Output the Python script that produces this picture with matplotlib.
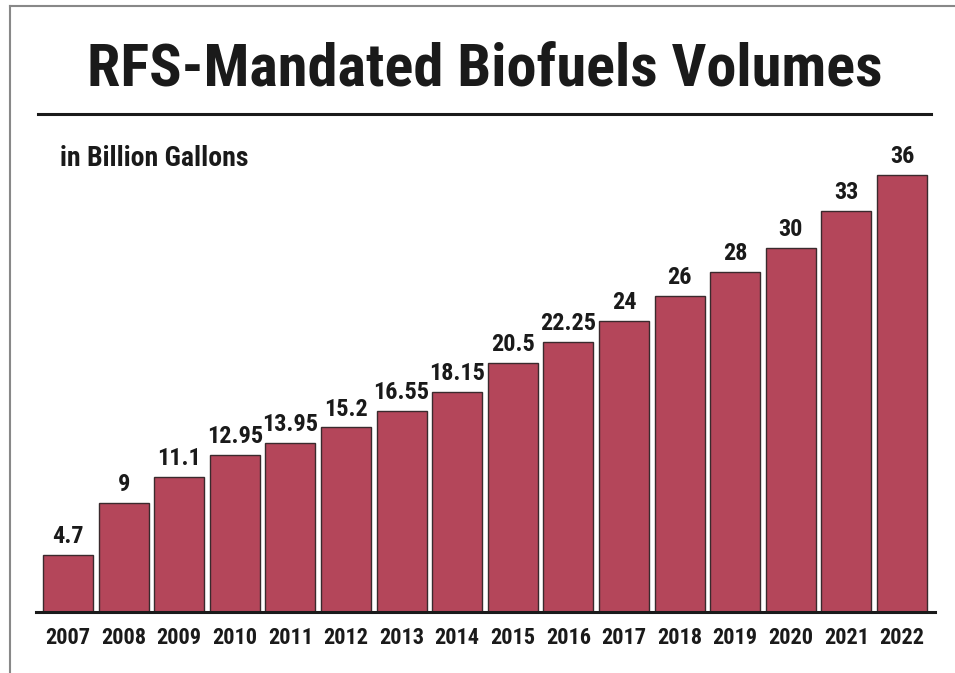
import matplotlib
matplotlib.use("Agg")
import matplotlib.pyplot as plt
from matplotlib import font_manager
from matplotlib.lines import Line2D

years = ["2007", "2008", "2009", "2010", "2011", "2012", "2013", "2014",
         "2015", "2016", "2017", "2018", "2019", "2020", "2021", "2022"]
volumes = [4.7, 9, 11.1, 12.95, 13.95, 15.2, 16.55, 18.15,
           20.5, 22.25, 24, 26, 28, 30, 33, 36]
value_labels = ["4.7", "9", "11.1", "12.95", "13.95", "15.2", "16.55", "18.15",
                "20.5", "22.25", "24", "26", "28", "30", "33", "36"]

# pick a narrow bold family if we have one
names = {f.name for f in font_manager.fontManager.ttflist}
narrow = "DejaVu Sans"
for cand in ["Roboto Condensed", "Liberation Sans Narrow", "DejaVu Sans Condensed"]:
    if cand in names:
        narrow = cand
        break
FONT = [narrow, "DejaVu Sans"]

W, H = 955, 673
fig = plt.figure(figsize=(W / 100, H / 100), dpi=100)
fig.patch.set_facecolor("white")

# axes placed in pixel terms
left, right, bottom, top = 36, 935, 612, 150
ax = fig.add_axes([left / W, (H - bottom) / H, (right - left) / W, (bottom - top) / H])
x = list(range(len(years)))
ax.bar(x, volumes, width=0.9, color="#b4465a", edgecolor="#3a2a2d", linewidth=1.0)
ax.set_xlim(-0.576, 15.594)
ax.set_ylim(0, (bottom - top) / 12.14)

for i, (v, lab) in enumerate(zip(volumes, value_labels)):
    ax.annotate(lab, (i, v), xytext=(0, 5), textcoords="offset points",
                ha="center", va="bottom", fontsize=17.5, fontweight="bold",
                family=FONT, color="#1a1a1a")

ax.set_xticks(x)
ax.set_xticklabels(years, fontsize=16, fontweight="bold", family=FONT, color="#1a1a1a")
ax.tick_params(axis="x", length=0, pad=11)
ax.set_yticks([])
for s in ["left", "right", "top"]:
    ax.spines[s].set_visible(False)
ax.spines["bottom"].set_linewidth(2.2)
ax.spines["bottom"].set_color("#1a1a1a")

fig.text(485 / W, 1 - 70 / H, "RFS-Mandated Biofuels Volumes", ha="center", va="center",
         fontsize=43.5, fontweight="bold", family=FONT, color="#1a1a1a")
fig.text(60 / W, 1 - 158 / H, "in Billion Gallons", ha="left", va="center",
         fontsize=20, fontweight="bold", family=FONT, color="#1a1a1a")

# rule under title and frame lines
fig.add_artist(Line2D([38 / W, 931 / W], [1 - 114 / H, 1 - 114 / H],
                      color="#1a1a1a", linewidth=2.2))
fig.add_artist(Line2D([10 / W, 10 / W], [0, 1 - 6 / H], color="#888888", linewidth=1.5))
fig.add_artist(Line2D([10 / W, 1], [1 - 6 / H, 1 - 6 / H], color="#888888", linewidth=1.5))

fig.savefig("out.png", dpi=100)
plt.close()
